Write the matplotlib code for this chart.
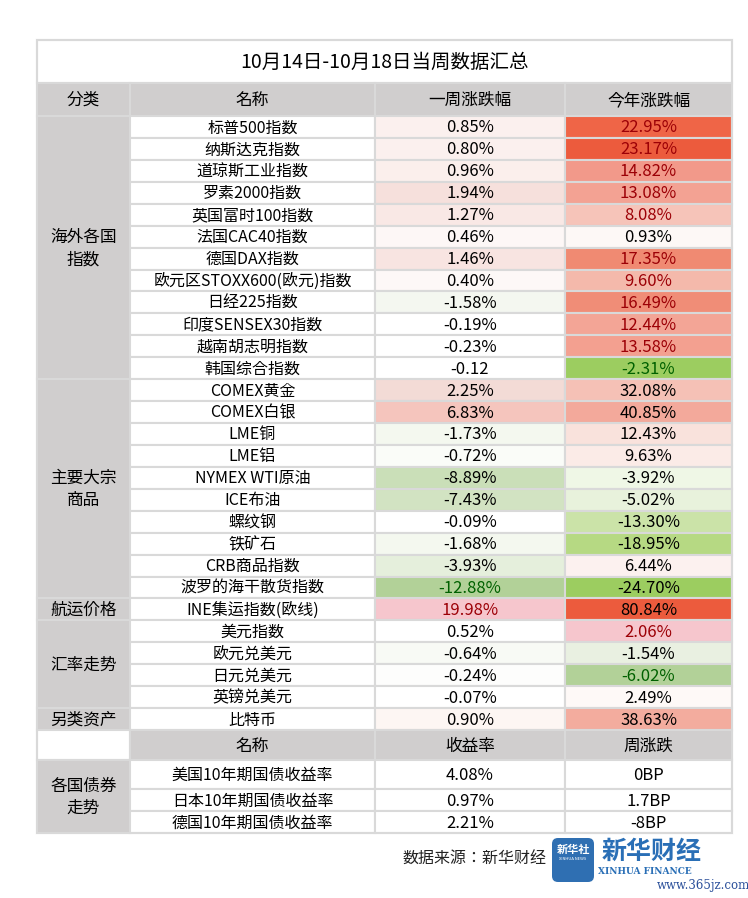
import matplotlib
matplotlib.use("Agg")
import matplotlib.pyplot as plt
from matplotlib.patches import Rectangle, FancyBboxPatch
from matplotlib import font_manager

cands = ["Noto Sans CJK SC", "Noto Sans CJK JP", "Noto Sans CJK TC", "Noto Sans CJK KR"]
avail = {f.name for f in font_manager.fontManager.ttflist}
fams = [c for c in cands if c in avail] + ["DejaVu Sans"]
plt.rcParams["font.family"] = fams

title = "10月14日-10月18日当周数据汇总"
headers = ["分类", "名称", "一周涨跌幅", "今年涨跌幅"]
groups = [("海外各国\n指数", 12), ("主要大宗\n商品", 10), ("航运价格", 1), ("汇率走势", 4), ("另类资产", 1)]
names = ["标普500指数", "纳斯达克指数", "道琼斯工业指数", "罗素2000指数", "英国富时100指数", "法国CAC40指数",
         "德国DAX指数", "欧元区STOXX600(欧元)指数", "日经225指数", "印度SENSEX30指数", "越南胡志明指数", "韩国综合指数",
         "COMEX黄金", "COMEX白银", "LME铜", "LME铝", "NYMEX WTI原油", "ICE布油", "螺纹钢", "铁矿石", "CRB商品指数",
         "波罗的海干散货指数", "INE集运指数(欧线)", "美元指数", "欧元兑美元", "日元兑美元", "英镑兑美元", "比特币"]
week = ["0.85%", "0.80%", "0.96%", "1.94%", "1.27%", "0.46%", "1.46%", "0.40%", "-1.58%", "-0.19%", "-0.23%", "-0.12",
        "2.25%", "6.83%", "-1.73%", "-0.72%", "-8.89%", "-7.43%", "-0.09%", "-1.68%", "-3.93%", "-12.88%",
        "19.98%", "0.52%", "-0.64%", "-0.24%", "-0.07%", "0.90%"]
year = ["22.95%", "23.17%", "14.82%", "13.08%", "8.08%", "0.93%", "17.35%", "9.60%", "16.49%", "12.44%", "13.58%", "-2.31%",
        "32.08%", "40.85%", "12.43%", "9.63%", "-3.92%", "-5.02%", "-13.30%", "-18.95%", "6.44%", "-24.70%",
        "80.84%", "2.06%", "-1.54%", "-6.02%", "2.49%", "38.63%"]
bond_headers = ["名称", "收益率", "周涨跌"]
bond_group = "各国债券\n走势"
bond_names = ["美国10年期国债收益率", "日本10年期国债收益率", "德国10年期国债收益率"]
bond_yield = ["4.08%", "0.97%", "2.21%"]
bond_change = ["0BP", "1.7BP", "-8BP"]
source = "数据来源：新华财经"

# styles
week_bg = ["#fbf0ee", "#fbf0ee", "#fbefec", "#f6e0dc", "#f9e8e5", "#fdf7f6", "#f8e4e1", "#fdf8f7", "#f4f7f0", "#ffffff", "#ffffff", "#ffffff",
           "#f3dbd6", "#f5c5bd", "#f4f8ef", "#fafcf8", "#cadfb8", "#d2e3c2", "#ffffff", "#f4f8ef", "#e5efdc", "#b2d198",
           "#f6c6cd", "#ffffff", "#f8faf5", "#fdfdfc", "#ffffff", "#fdf6f3"]
week_fg = ["k"] * 21 + ["#006100", "#9c0006"] + ["k"] * 5
year_bg = ["#ef6547", "#ec5b3d", "#f2998a", "#f3a293", "#f6c4b9", "#fdf8f6", "#f08a72", "#f4b9ab", "#f08d77", "#f3a596", "#f3a090", "#9ccd60",
           "#f5c1b6", "#f3a99b", "#f9e2dc", "#fbebe7", "#eff7e6", "#e8f2dc", "#cbe3a8", "#b6d983", "#fcf1ef", "#9ccd60",
           "#ec5b3d", "#f6c6cd", "#e9f0e1", "#b2d198", "#fef9f7", "#f3ac9e"]
DR, GR = "#9c0006", "#006100"
year_fg = [DR, DR, DR, DR, DR, "k", DR, DR, DR, DR, DR, GR] + ["k"] * 11 + [DR, "k", GR, "k", "k"]

GRAY = "#d0cece"
LINE = "#d9d9d9"
W, H = 748, 898
fig = plt.figure(figsize=(W / 100, H / 100), dpi=100)
ax = fig.add_axes([0, 0, 1, 1])
ax.set_xlim(0, W)
ax.set_ylim(H, 0)
ax.axis("off")

cols = [37, 130, 375, 565, 732]

def cell(x0, x1, y0, y1, fc, text="", color="k", size=11.5, weight="normal"):
    ax.add_patch(Rectangle((x0, y0), x1 - x0, y1 - y0, facecolor=fc, edgecolor=LINE, lw=1.5))
    if text:
        ax.text((x0 + x1) / 2, (y0 + y1) / 2 + 1, text, ha="center", va="center", color=color,
                fontsize=size, weight=weight, linespacing=1.4)

cell(cols[0], cols[4], 40, 83, "white", title, size=14)
for i, h in enumerate(headers):
    cell(cols[i], cols[i + 1], 83, 116, GRAY, h, size=12)

top = 116
rh = (730 - 116) / 28
r = 0
for g, n in groups:
    cell(cols[0], cols[1], top + r * rh, top + (r + n) * rh, GRAY, g, size=12)
    r += n
for i in range(len(names)):
    y0, y1 = top + i * rh, top + (i + 1) * rh
    cell(cols[1], cols[2], y0, y1, "white", names[i])
    cell(cols[2], cols[3], y0, y1, week_bg[i], week[i], week_fg[i], size=12)
    cell(cols[3], cols[4], y0, y1, year_bg[i], year[i], year_fg[i], size=12)

cell(cols[0], cols[1], 730, 760, "white")
for i, h in enumerate(bond_headers):
    cell(cols[i + 1], cols[i + 2], 730, 760, GRAY, h, size=12)
brows = [760, 789, 811, 833]
cell(cols[0], cols[1], brows[0], brows[-1], GRAY, bond_group, size=12)
for i in range(3):
    y0, y1 = brows[i], brows[i + 1]
    cell(cols[1], cols[2], y0, y1, "white", bond_names[i])
    cell(cols[2], cols[3], y0, y1, "white", bond_yield[i], size=12)
    cell(cols[3], cols[4], y0, y1, "white", bond_change[i], size=12)
ax.add_patch(Rectangle((cols[0], 40), cols[4] - cols[0], 833 - 40, fill=False, edgecolor=LINE, lw=1.5))

ax.text(474, 859, source, ha="center", va="center", fontsize=11.5, color="#222222")
ax.add_patch(FancyBboxPatch((552, 838), 42, 44, boxstyle="round,pad=0,rounding_size=6",
                            facecolor="#2f6fb2", edgecolor="none"))
ax.text(573, 849, "新华社", ha="center", va="center", fontsize=8, color="white", weight="bold")
ax.text(573, 859, "XINHUA NEWS", ha="center", va="center", fontsize=3, color="white")
ax.text(652, 852, "新华财经", ha="center", va="center", fontsize=18, color="#2a6fb6", weight="bold", style="italic")
ax.text(645, 872, "XINHUA FINANCE", ha="center", va="center", fontsize=6.5, color="#2a6fb6", family="DejaVu Serif", weight="bold")
ax.text(703, 886, "www.365jz.com", ha="center", va="center", fontsize=8.5, color="#2a4f9a", family="DejaVu Serif")

fig.savefig("out.png", dpi=100, facecolor="white")
